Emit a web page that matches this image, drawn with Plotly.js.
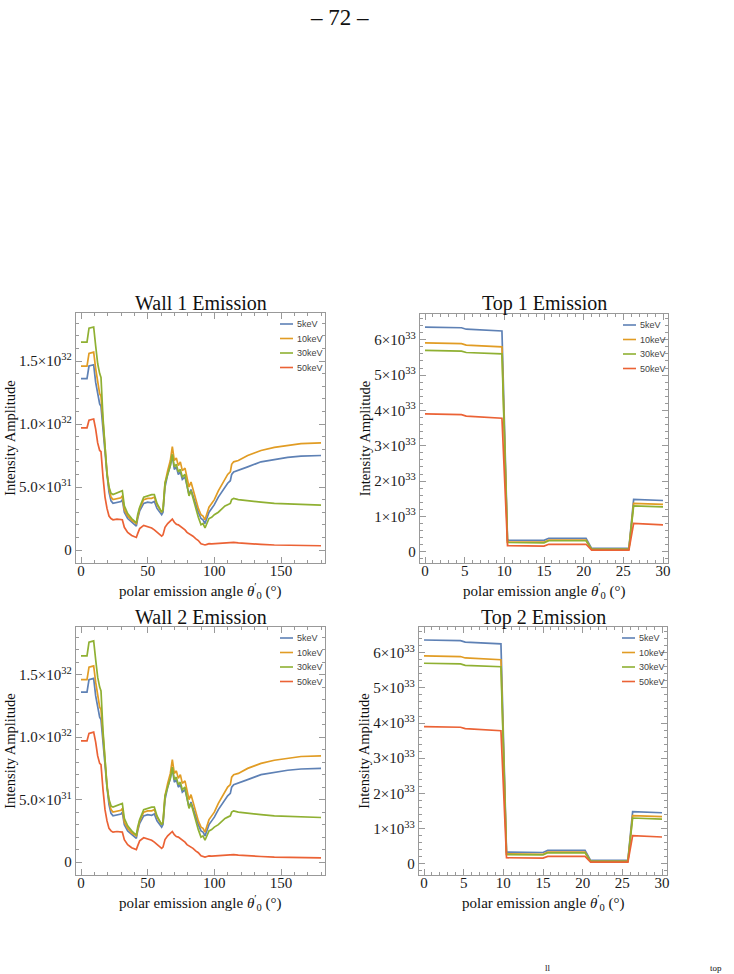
<!DOCTYPE html>
<html><head><meta charset="utf-8">
<script src="https://cdn.plot.ly/plotly-3.0.1.min.js"></script>
<style>html,body{margin:0;padding:0;background:#fff}#chart{width:734px;height:974px}</style>
</head><body><div id="chart"></div>
<script>
// ---------------- DATA ----------------
const seriesNames = ['5keV', '10keV', '30keV', '50keV'];
const seriesColors = ['#5e81b5', '#e19c24', '#8fb032', '#eb6235'];
const panelTitles = ['Wall 1 Emission', 'Top 1 Emission', 'Wall 2 Emission', 'Top 2 Emission'];
const pageNumber = '– 72 –';

// wall emission: polar emission angle (deg)
const wallAngle = [0,4.5,6,9.5,11,12.5,14,15,16.5,18,19.5,21,22.5,24,27,30,31,32.5,35,38,41.5,42.5,44,47,50,53,55,57,60.5,61.5,63,65,67,68.5,70,71.5,73,74.5,76,78,79.5,81,82.5,84,86,88,90,91.5,93,94.5,96,98,100,103,106,108,110,112,113,114.5,118,125,135,145,155,165,180];
const wall5keV = [1.36e32,1.36e32,1.46e32,1.47e32,1.33e32,1.23e32,1.16e32,1.14e32,0.95e32,0.75e32,
  0.60e32,0.46e32,0.39e32,0.37e32,0.38e32,0.385e32,0.40e32,0.30e32,0.25e32,0.22e32,
  0.19e32,0.25e32,0.31e32,0.37e32,0.38e32,0.375e32,0.385e32,0.33e32,0.28e32,0.30e32,
  0.50e32,0.60e32,0.67e32,0.75e32,0.64e32,0.66e32,0.60e32,0.62e32,0.56e32,0.58e32,
  0.50e32,0.44e32,0.48e32,0.43e32,0.36e32,0.30e32,0.25e32,0.24e32,0.21e32,0.25e32,
  0.30e32,0.33e32,0.36e32,0.42e32,0.47e32,0.50e32,0.53e32,0.55e32,0.60e32,0.62e32,
  0.635e32,0.66e32,0.70e32,0.72e32,0.735e32,0.745e32,0.75e32];
const wall10keV = [1.46e32,1.46e32,1.56e32,1.57e32,1.44e32,1.34e32,1.24e32,1.22e32,1.00e32,0.78e32,
  0.62e32,0.49e32,0.42e32,0.40e32,0.41e32,0.415e32,0.43e32,0.32e32,0.27e32,0.235e32,
  0.21e32,0.27e32,0.33e32,0.40e32,0.41e32,0.41e32,0.42e32,0.36e32,0.30e32,0.32e32,
  0.53e32,0.63e32,0.71e32,0.82e32,0.71e32,0.73e32,0.67e32,0.70e32,0.63e32,0.65e32,
  0.57e32,0.50e32,0.54e32,0.48e32,0.41e32,0.33e32,0.28e32,0.27e32,0.24e32,0.29e32,
  0.34e32,0.37e32,0.40e32,0.47e32,0.53e32,0.56e32,0.60e32,0.62e32,0.68e32,0.70e32,
  0.71e32,0.75e32,0.79e32,0.815e32,0.83e32,0.845e32,0.85e32];
const wall30keV = [1.65e32,1.65e32,1.76e32,1.77e32,1.62e32,1.48e32,1.40e32,1.37e32,1.05e32,0.78e32,
  0.60e32,0.50e32,0.45e32,0.44e32,0.455e32,0.47e32,0.47e32,0.35e32,0.29e32,0.25e32,
  0.215e32,0.28e32,0.34e32,0.42e32,0.43e32,0.44e32,0.44e32,0.37e32,0.30e32,0.32e32,
  0.53e32,0.61e32,0.67e32,0.76e32,0.66e32,0.68e32,0.62e32,0.64e32,0.58e32,0.60e32,
  0.50e32,0.43e32,0.47e32,0.41e32,0.34e32,0.26e32,0.20e32,0.21e32,0.175e32,0.22e32,
  0.25e32,0.26e32,0.28e32,0.30e32,0.33e32,0.35e32,0.36e32,0.37e32,0.40e32,0.41e32,
  0.40e32,0.39e32,0.38e32,0.37e32,0.365e32,0.36e32,0.357e32];
const wall50keV = [0.97e32,0.97e32,1.03e32,1.04e32,0.96e32,0.85e32,0.79e32,0.78e32,0.58e32,0.42e32,
  0.33e32,0.27e32,0.25e32,0.24e32,0.245e32,0.245e32,0.24e32,0.18e32,0.14e32,0.115e32,
  0.10e32,0.13e32,0.17e32,0.195e32,0.185e32,0.175e32,0.16e32,0.14e32,0.11e32,0.12e32,
  0.18e32,0.21e32,0.235e32,0.245e32,0.22e32,0.205e32,0.20e32,0.19e32,0.175e32,0.16e32,
  0.14e32,0.13e32,0.125e32,0.11e32,0.09e32,0.075e32,0.05e32,0.045e32,0.04e32,0.045e32,
  0.05e32,0.048e32,0.05e32,0.052e32,0.054e32,0.055e32,0.056e32,0.057e32,0.058e32,0.06e32,
  0.056e32,0.05e32,0.045e32,0.04e32,0.037e32,0.035e32,0.034e32];

// top emission: polar emission angle (deg)
const topAngle = [0,4.6,5.2,9.7,10.4,15,15.6,20.3,21,25.7,26.3,30];
const top5keV  = [6.36e33,6.34e33,6.30e33,6.25e33,0.33e33,0.32e33,0.38e33,0.38e33,0.095e33,0.095e33,1.48e33,1.45e33];
const top10keV = [5.91e33,5.89e33,5.85e33,5.80e33,0.28e33,0.27e33,0.33e33,0.33e33,0.066e33,0.066e33,1.37e33,1.34e33];
const top30keV = [5.70e33,5.68e33,5.64e33,5.60e33,0.26e33,0.25e33,0.31e33,0.31e33,0.07e33,0.07e33,1.30e33,1.27e33];
const top50keV = [3.90e33,3.88e33,3.84e33,3.78e33,0.17e33,0.16e33,0.21e33,0.21e33,0.047e33,0.047e33,0.80e33,0.76e33];

// tick labels
const wallTickVals = [0, 5e31, 1e32, 1.5e32];
const wallTickText = ['0', '5.0×10<sup>31</sup>', '1.0×10<sup>32</sup>', '1.5×10<sup>32</sup>'];
const topTickVals = [0, 1e33, 2e33, 3e33, 4e33, 5e33, 6e33];
const topTickText = ['0', '1×10<sup>33</sup>', '2×10<sup>33</sup>', '3×10<sup>33</sup>', '4×10<sup>33</sup>', '5×10<sup>33</sup>', '6×10<sup>33</sup>'];
const xTitle = 'polar emission angle <i>θ</i><sup>′</sup><sub>0</sub> (°)';
const yTitle = 'Intensity Amplitude';
const footerBits = ['ll', 'top'];

// ---------------- LAYOUT ----------------
const W = 734, H = 974;
const serif = 'Liberation Serif, Times New Roman, serif';
const sans = 'Liberation Sans, Arial, sans-serif';
const frameColor = '#999999';

// panel frames in pixels [left, right, top, bottom]
const panels = [
  {box: [76, 325, 313, 563], kind: 'wall', ys: [wall5keV, wall10keV, wall30keV, wall50keV]},
  {box: [420, 668, 314, 563], kind: 'top', ys: [top5keV, top10keV, top30keV, top50keV]},
  {box: [76, 325, 627, 875], kind: 'wall', ys: [wall5keV, wall10keV, wall30keV, wall50keV]},
  {box: [419, 667, 627, 875], kind: 'top', ys: [top5keV, top10keV, top30keV, top50keV]}
];

const px2x = p => p / W;
const px2y = p => 1 - p / H;

const traces = [];
const layout = {
  width: W, height: H,
  margin: {l: 0, r: 0, t: 0, b: 0},
  paper_bgcolor: '#fff', plot_bgcolor: '#fff',
  showlegend: false,
  font: {family: serif, color: '#111'},
  annotations: [], shapes: []
};

panels.forEach((p, k) => {
  const n = k === 0 ? '' : String(k + 1);
  const isWall = p.kind === 'wall';
  const xs = isWall ? wallAngle : topAngle;
  p.ys.forEach((y, i) => {
    traces.push({
      x: xs, y: y, type: 'scatter', mode: 'lines', name: seriesNames[i],
      xaxis: 'x' + n, yaxis: 'y' + n,
      line: {color: seriesColors[i], width: 1.7},
      hoverinfo: 'skip'
    });
  });
  const [L, R, T, B] = p.box;
  const common = {
    showline: true, linecolor: frameColor, linewidth: 1.3, mirror: 'allticks',
    ticks: 'inside', ticklen: 6, tickwidth: 1, tickcolor: frameColor,
    showgrid: false, zeroline: false, fixedrange: true,
    tickfont: {family: serif, size: 15, color: '#1a1a1a'}
  };
  layout['xaxis' + n] = Object.assign({}, common, {
    domain: [px2x(L), px2x(R)], anchor: 'y' + n,
    range: isWall ? [-3.75, 183] : [-0.63, 30.63],
    tickmode: 'linear', tick0: 0, dtick: isWall ? 50 : 5,
    ticklabelstandoff: -6,
    minor: {tickmode: 'linear', tick0: 0, dtick: isWall ? 10 : 1, ticklen: 3, tickcolor: frameColor, ticks: 'inside'}
  });
  layout['yaxis' + n] = Object.assign({}, common, {
    domain: [px2y(B), px2y(T)], anchor: 'x' + n,
    range: isWall ? [-0.103e32, 1.881e32] : [-0.32e33, 6.73e33],
    tickmode: 'array',
    tickvals: isWall ? wallTickVals : topTickVals,
    ticktext: isWall ? wallTickText : topTickText,
    minor: {tickmode: 'linear', tick0: 0, dtick: isWall ? 1e31 : 2e32, ticklen: 3, tickcolor: frameColor, ticks: 'inside'},
    title: {text: yTitle, font: {family: serif, size: 14.5, color: '#111'}, standoff: 0}
  });
  // x-axis title, placed just below the tick labels
  layout.annotations.push({
    text: xTitle, xref: 'paper', yref: 'paper',
    x: px2x((L + R) / 2), y: px2y(B + 17), xanchor: 'center', yanchor: 'top',
    showarrow: false, font: {family: serif, size: 15, color: '#111'}, borderpad: 0
  });
  // panel title
  layout.annotations.push({
    text: panelTitles[k], xref: 'paper', yref: 'paper',
    x: px2x((L + R) / 2), y: px2y(T - 10), xanchor: 'center', yanchor: 'middle',
    showarrow: false, font: {family: serif, size: 20, color: '#111'}
  });
  // legend (drawn inside the frame, top right)
  seriesNames.forEach((name, i) => {
    const yy = T + 11 + i * 14.5;
    layout.shapes.push({
      type: 'line', xref: 'paper', yref: 'paper',
      x0: px2x(R - 45), x1: px2x(R - 32), y0: px2y(yy), y1: px2y(yy),
      line: {color: seriesColors[i], width: 1.6}
    });
    layout.annotations.push({
      text: name, xref: 'paper', yref: 'paper',
      x: px2x(R - 30), y: px2y(yy), xanchor: 'left', yanchor: 'middle',
      showarrow: false, font: {family: sans, size: 9, color: '#444'}
    });
  });
});

// page number header
layout.annotations.push({
  text: pageNumber, xref: 'paper', yref: 'paper', x: px2x(339), y: px2y(17),
  xanchor: 'center', yanchor: 'middle', showarrow: false,
  font: {family: serif, size: 23, color: '#111'}
});
// running-text fragments at the page bottom
[548, 716].forEach((xp, i) => {
  layout.annotations.push({
    text: footerBits[i], xref: 'paper', yref: 'paper', x: px2x(xp), y: 0,
    xanchor: 'center', yanchor: 'bottom', showarrow: false,
    font: {family: serif, size: 9, color: '#111'}, borderpad: 0
  });
});

Plotly.newPlot('chart', traces, layout, {staticPlot: true, displayModeBar: false});
</script>
</body></html>
